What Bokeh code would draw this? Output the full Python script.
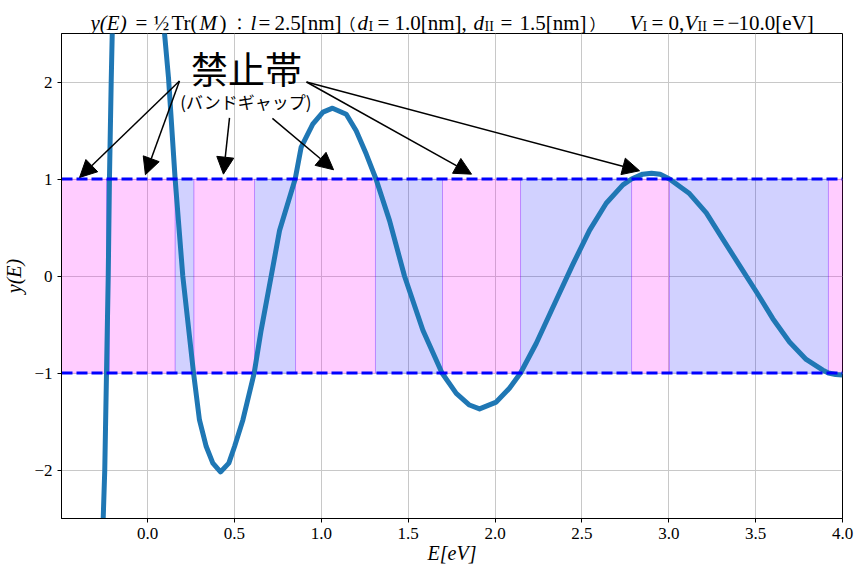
from bokeh.plotting import figure
from bokeh.layouts import column
from bokeh.models import Label, Span, Arrow, NormalHead, ColumnDataSource
from bokeh.embed import file_html
from bokeh.resources import INLINE

# y(E) (E in eV)
energy = [-0.258, -0.255, -0.246, -0.236, -0.226, -0.219, -0.209, -0.203, -0.200,
          0.095, 0.098, 0.121, 0.159, 0.203, 0.265, 0.299, 0.338, 0.376, 0.420, 0.468,
          0.501, 0.549, 0.614, 0.654, 0.712, 0.760, 0.850, 0.884, 0.951, 1.010, 1.065,
          1.144, 1.201, 1.259, 1.315, 1.393, 1.479, 1.585, 1.695, 1.777, 1.853, 1.911,
          2.007, 2.083, 2.147, 2.237, 2.352, 2.448, 2.544, 2.640, 2.736, 2.786, 2.850,
          2.901, 2.950, 3.004, 3.119, 3.216, 3.311, 3.407, 3.503, 3.599, 3.695, 3.791,
          3.887, 3.919, 3.960, 4.000]
y_val = [-2.8, -2.5, -2.0, -1.0, 0.0, 1.0, 2.0, 2.5, 2.8,
         2.8, 2.5, 2.04, 1.0, 0.0, -1.0, -1.484, -1.758, -1.929, -2.02, -1.929,
         -1.758, -1.484, -1.0, -0.559, 0.0, 0.469, 1.0, 1.325, 1.565, 1.69, 1.73,
         1.668, 1.497, 1.257, 1.0, 0.571, 0.0, -0.559, -1.0, -1.21, -1.33, -1.37,
         -1.30, -1.158, -1.0, -0.696, -0.25, 0.12, 0.47, 0.75, 0.94, 1.0, 1.05,
         1.06, 1.05, 1.0, 0.85, 0.65, 0.38, 0.11, -0.16, -0.44, -0.68, -0.86,
         -0.97, -1.0, -1.015, -1.02]

# allowed bands (|y| <= 1) and forbidden bands (band gaps)
allowed_lo = [-0.236, 0.159, 0.616, 1.312, 2.147, 3.004]
allowed_hi = [-0.219, 0.267, 0.852, 1.698, 2.786, 3.919]
gap_lo = [-0.495, -0.219, 0.267, 0.852, 1.698, 2.786, 3.919]
gap_hi = [-0.236, 0.159, 0.616, 1.312, 2.147, 3.004, 4.0]
band_limits = [-1, 1]

x_ticks = [0.0, 0.5, 1.0, 1.5, 2.0, 2.5, 3.0, 3.5, 4.0]
x_tick_labels = ["0.0", "0.5", "1.0", "1.5", "2.0", "2.5", "3.0", "3.5", "4.0"]
y_ticks = [-2, -1, 0, 1, 2]
y_tick_labels = ["\u22122", "\u22121", "0", "1", "2"]

# annotation arrows: text -> band gaps
arrow_x0 = [0.184, 0.184, 0.472, 0.719, 0.915, 0.915]
arrow_y0 = [2.01, 2.01, 1.63, 1.625, 2.0, 2.0]
arrow_x1 = [-0.391, -0.012, 0.437, 1.071, 1.865, 2.832]
arrow_y1 = [1.016, 1.044, 1.05, 1.095, 1.05, 1.085]

x_lim = (-0.495, 4.0)
y_lim = (-2.5, 2.5)

SERIF = "Liberation Serif"
CJK = "Noto Sans CJK JP"

# title pieces: text, left x (px), style, size, baseline shift, font
title_parts = [
    ("y(E)", 91, "italic", 21, 0, SERIF),
    ("=", 136, "normal", 21, 0, SERIF),
    ("½", 154, "normal", 21, 0, SERIF),
    ("Tr(", 172, "normal", 21, 0, SERIF),
    ("M", 200, "italic", 21, 0, SERIF),
    (")", 220, "normal", 21, 0, SERIF),
    ("：", 232, "normal", 16, 0, CJK),
    ("l", 251, "italic", 21, 0, SERIF),
    ("=", 259, "normal", 21, 0, SERIF),
    ("2.5[nm]", 275, "normal", 21, 0, SERIF),
    ("（", 340, "normal", 16, 0, CJK),
    ("d", 358, "italic", 21, 0, SERIF),
    ("I", 369, "normal", 14, 4, SERIF),
    ("=", 378, "normal", 21, 0, SERIF),
    ("1.0[nm],", 395, "normal", 21, 0, SERIF),
    ("d", 474, "italic", 21, 0, SERIF),
    ("II", 485, "normal", 14, 4, SERIF),
    ("=", 501, "normal", 21, 0, SERIF),
    ("1.5[nm]", 520, "normal", 21, 0, SERIF),
    ("）", 590, "normal", 16, 0, CJK),
    ("V", 630, "italic", 21, 0, SERIF),
    ("I", 643, "normal", 14, 4, SERIF),
    ("=", 652, "normal", 21, 0, SERIF),
    ("0,", 669, "normal", 21, 0, SERIF),
    ("V", 685, "italic", 21, 0, SERIF),
    ("II", 698, "normal", 14, 4, SERIF),
    ("=", 713, "normal", 21, 0, SERIF),
    ("\u2212", 728, "normal", 21, 0, SERIF),
    ("10.0[eV]", 739, "normal", 21, 0, SERIF),
]

# --- title strip, in page pixel coordinates (y down) ---
tf = figure(frame_width=781, frame_height=33, x_range=(62, 843), y_range=(33, 0),
            min_border=0, min_border_left=54, min_border_right=14,
            x_axis_location=None, y_axis_location=None,
            output_backend="svg", toolbar_location=None)
tf.grid.visible = False
tf.outline_line_color = None
tsrc = ColumnDataSource(dict(
    x=[t[1] for t in title_parts],
    y=[22 + t[4] for t in title_parts],
    text=[t[0] for t in title_parts],
    style=[t[2] for t in title_parts],
    size=[f"{t[3]}px" for t in title_parts],
    font=[t[5] for t in title_parts],
))
tf.text(x="x", y="y", text="text", source=tsrc, text_font="font", text_font_size="size",
        text_font_style="style", text_color="black", text_baseline="alphabetic",
        text_align="left")

# --- main plot ---
p = figure(frame_width=781, frame_height=485, min_border_left=54, min_border_top=0,
           min_border_right=14, min_border_bottom=51, x_range=x_lim, y_range=y_lim,
           title=None, output_backend="svg", toolbar_location=None)

# band shading
p.quad(left=gap_lo, right=gap_hi, bottom=band_limits[0], top=band_limits[1],
       fill_color="magenta", fill_alpha=0.2, line_color="magenta", line_alpha=0.2)
p.quad(left=allowed_lo, right=allowed_hi, bottom=band_limits[0], top=band_limits[1],
       fill_color="blue", fill_alpha=0.18, line_color="blue", line_alpha=0.2)

for lim in band_limits:
    p.add_layout(Span(location=lim, dimension="width", line_color="blue", line_width=3,
                      line_dash="11 4", level="glyph"))

p.line(energy, y_val, line_color="#1f77b4", line_width=5, line_join="round")

# arrows and text
src = ColumnDataSource(dict(x0=arrow_x0, y0=arrow_y0, x1=arrow_x1, y1=arrow_y1))
p.add_layout(Arrow(end=NormalHead(size=17, fill_color="black", line_color="black"),
                   x_start="x0", y_start="y0", x_end="x1", y_end="y1", source=src,
                   line_color="black", line_width=1.5))
p.add_layout(Label(x=0.57, y=2.14, text="禁止帯", text_font=CJK, text_font_size="37px",
                   text_color="black", text_align="center", text_baseline="middle"))
p.add_layout(Label(x=0.564, y=1.80, text="(バンドギャップ)", text_font=CJK,
                   text_font_size="17px", text_color="black", text_align="center",
                   text_baseline="middle"))

# axes
p.xaxis.ticker = x_ticks
p.xaxis.major_label_overrides = dict(zip(x_ticks, x_tick_labels))
p.yaxis.ticker = y_ticks
p.yaxis.major_label_overrides = dict(zip(y_ticks, y_tick_labels))
p.xaxis.axis_label = "E[eV]"
p.yaxis.axis_label = "y(E)"
for ax in (p.xaxis, p.yaxis):
    ax.axis_label_text_font = SERIF
    ax.axis_label_text_font_style = "italic"
    ax.axis_label_text_font_size = "20px"
    ax.axis_label_text_color = "black"
    ax.major_label_text_font = SERIF
    ax.major_label_text_font_size = "17px"
    ax.major_label_text_color = "black"
    ax.minor_tick_line_color = None
    ax.major_tick_in = 0
    ax.major_tick_out = 4
    ax.major_tick_line_color = "black"
    ax.axis_line_color = "black"
    ax.major_label_standoff = 5
p.xaxis.axis_label_standoff = 0
p.yaxis.axis_label_standoff = 6
p.grid.grid_line_color = "#c8c8c8"
p.grid.grid_line_width = 1
p.outline_line_color = "black"
p.outline_line_alpha = 1

layout = column(tf, p)
open("out.html", "w").write(file_html(layout, INLINE))
